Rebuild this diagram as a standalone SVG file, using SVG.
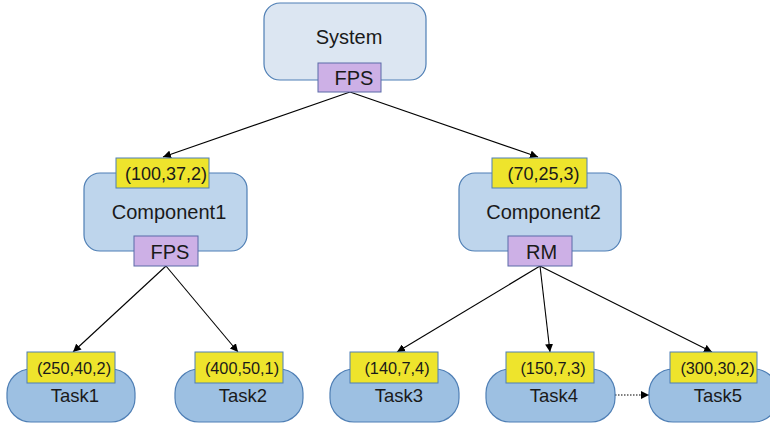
<svg xmlns="http://www.w3.org/2000/svg" width="770" height="425" viewBox="0 0 770 425">
<style>
.sys{fill:#dce6f2;stroke:#4f7fb5;stroke-width:1.2}
.comp{fill:#bed5ec;stroke:#4f7fb5;stroke-width:1.2}
.task{fill:#9dc0e2;stroke:#4f7fb5;stroke-width:1.2}
.lab{fill:#eee42c;stroke:#4f7fb5;stroke-width:1}
.pol{fill:#cdb0e6;stroke:#5a6aa8;stroke-width:1}
text{font-family:"Liberation Sans",Arial,sans-serif;fill:#1a1a1a;text-anchor:middle}
.big{font-size:20px}
.mid{font-size:20px}
.pt{font-size:20px}
.sm{font-size:18.5px}
.lt{font-size:18px}
.tl{font-size:16.3px}
.ed{stroke:#000;stroke-width:1.1;fill:none;marker-end:url(#ah)}
</style>
<defs>
<marker id="ah" viewBox="0 0 10 10" refX="10" refY="5" markerWidth="8" markerHeight="8" orient="auto" markerUnits="userSpaceOnUse">
<path d="M0,0 L10,5 L0,10 z" fill="#000"/>
</marker>
</defs>
<g id="connectors">
<line class="ed" x1="350" y1="92" x2="163" y2="157"/>
<line class="ed" x1="350" y1="92" x2="538" y2="157"/>
<line class="ed" x1="166" y1="266" x2="73" y2="352"/>
<line class="ed" x1="166" y1="266" x2="238" y2="352"/>
<line class="ed" x1="540" y1="266" x2="397" y2="352"/>
<line class="ed" x1="540" y1="266" x2="550" y2="352"/>
<line class="ed" x1="540" y1="266" x2="712" y2="352"/>
<line class="ed" x1="615" y1="395" x2="649" y2="395" stroke-dasharray="1.5,1.5"/>
</g>
<g id="system">
<rect class="sys" x="264" y="3" width="162" height="77" rx="16"/>
<text class="big" x="349" y="44">System</text>
<rect class="pol" x="318" y="63" width="63" height="29"/>
<text class="pt" x="354" y="85">FPS</text>
</g>
<g id="component1">
<rect class="comp" x="84" y="173" width="163" height="78" rx="16"/>
<text class="mid" x="169" y="219">Component1</text>
<rect class="lab" x="116" y="158" width="93" height="30"/>
<text class="lt" x="166" y="180">(100,37,2)</text>
<rect class="pol" x="134" y="236" width="64" height="30"/>
<text class="pt" x="170" y="259">FPS</text>
</g>
<g id="component2">
<rect class="comp" x="459" y="173" width="162" height="78" rx="16"/>
<text class="mid" x="543.5" y="219">Component2</text>
<rect class="lab" x="492" y="158" width="95" height="30"/>
<text class="lt" x="543.5" y="180">(70,25,3)</text>
<rect class="pol" x="508" y="236" width="64" height="30"/>
<text class="pt" x="541.5" y="259">RM</text>
</g>
<g id="task1">
<rect class="task" x="7" y="369" width="128" height="53" rx="24"/>
<text class="sm" x="75" y="402">Task1</text>
<rect class="lab" x="27" y="352" width="88" height="31"/>
<text class="tl" x="74" y="374">(250,40,2)</text>
</g>
<g id="task2">
<rect class="task" x="175" y="369" width="128" height="53" rx="24"/>
<text class="sm" x="243" y="402">Task2</text>
<rect class="lab" x="195" y="352" width="88" height="31"/>
<text class="tl" x="242" y="374">(400,50,1)</text>
</g>
<g id="task3">
<rect class="task" x="330" y="369" width="129" height="53" rx="24"/>
<text class="sm" x="399" y="402">Task3</text>
<rect class="lab" x="350" y="352" width="88" height="31"/>
<text class="tl" x="397" y="374">(140,7,4)</text>
</g>
<g id="task4">
<rect class="task" x="486" y="369" width="129" height="53" rx="24"/>
<text class="sm" x="554" y="402">Task4</text>
<rect class="lab" x="506" y="352" width="88" height="31"/>
<text class="tl" x="553" y="374">(150,7,3)</text>
</g>
<g id="task5">
<rect class="task" x="649" y="369" width="129" height="53" rx="24"/>
<text class="sm" x="718" y="402">Task5</text>
<rect class="lab" x="670" y="352" width="87" height="31"/>
<text class="tl" x="717.5" y="374">(300,30,2)</text>
</g>
</svg>
